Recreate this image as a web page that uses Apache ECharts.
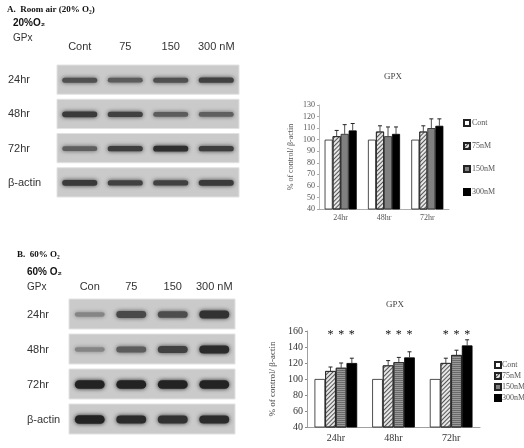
<!DOCTYPE html>
<html><head><meta charset="utf-8">
<script src="https://cdn.jsdelivr.net/npm/echarts@6/dist/echarts.min.js"></script>
<style>html,body{margin:0;padding:0;background:#fff}#c{width:524px;height:448px}</style>
</head><body><div id="c"></div>
<script>
// ---------- data ----------
const laneA = ['Cont', '75', '150', '300 nM'];
const laneB = ['Con', '75', '150', '300 nM'];
const blotRows = ['24hr', '48hr', '72hr', 'β-actin'];
// band intensity (0..1) per row, per lane
const bandA = [[0.70, 0.62, 0.70, 0.80], [0.85, 0.80, 0.62, 0.60], [0.60, 0.82, 0.92, 0.82], [0.85, 0.80, 0.80, 0.85]];
const bandB = [[0.35, 0.75, 0.72, 0.90], [0.35, 0.62, 0.80, 0.95], [1.00, 1.00, 1.00, 1.00], [1.00, 0.95, 0.90, 0.95]];
const times = ['24hr', '48hr', '72hr'];
const doses = ['Cont', '75nM', '150nM', '300nM'];
// % of control / beta-actin, per dose, per time
const airMean = [[100, 100, 100], [103, 107, 107], [105, 103, 110], [108, 105, 112]];
const airSD = [[0, 0, 0], [5, 5, 5], [8, 8, 8], [6, 6, 6]];
const hyperMean = [[100, 100, 100], [110, 117, 120], [114, 121, 130], [120, 127, 142]];
const hyperSD = [[0, 0, 0], [5, 6, 6], [6, 6, 6], [6, 7, 7]];
const hyperSig = [[0, 0, 0], [1, 1, 1], [1, 1, 1], [1, 1, 1]];
const airTicks = { min: 40, max: 130, interval: 10 };
const hyperTicks = { min: 40, max: 160, interval: 20 };

// ---------- helpers ----------
const SERIF = '"Liberation Serif","Times New Roman",serif';
const SANS = '"Liberation Sans",Arial,sans-serif';

function bandItems(m) {
  const out = [];
  m.forEach((row, r) => row.forEach((v, l) => out.push([l, r, v])));
  return out;
}
function panelSeries(idx) {
  return {
    type: 'custom', xAxisIndex: idx, yAxisIndex: idx, silent: true, z: 1,
    encode: { x: 0, y: 1 },
    data: blotRows.map((_, r) => [0, r]),
    renderItem: function (params, api) {
      const c = api.coord([0, api.value(1)]);
      const cell = api.size([1, 1]);
      const cs = params.coordSys;
      return {
        type: 'rect',
        shape: { x: cs.x, y: c[1] - cell[1] / 2 + 2, width: cs.width, height: cell[1] - 5 },
        style: { fill: '#cacaca', stroke: '#e2e2e2', lineWidth: 1 }
      };
    }
  };
}
function bandSeries(idx, m, frac, h0, h1) {
  return {
    type: 'custom', xAxisIndex: idx, yAxisIndex: idx, silent: true, z: 2,
    encode: { x: 0, y: 1 },
    data: bandItems(m),
    renderItem: function (params, api) {
      const v = api.value(2);
      const c = api.coord([api.value(0), api.value(1)]);
      const cell = api.size([1, 1]);
      const w = cell[0] * frac;
      const h = h0 + h1 * v;
      const g = Math.round(185 - 150 * v);
      const col = 'rgb(' + g + ',' + g + ',' + g + ')';
      return {
        type: 'rect',
        shape: { x: c[0] - w / 2, y: c[1] - h / 2, width: w, height: h, r: h / 2 },
        style: { fill: col, shadowBlur: 4, shadowColor: col }
      };
    }
  };
}
function blotAxes(lanes, labMargin, rowMargin) {
  return {
    x: {
      type: 'category', data: lanes, position: 'top',
      axisLine: { show: false }, axisTick: { show: false },
      axisLabel: { interval: 0, fontFamily: SANS, fontSize: 11, color: '#333', margin: labMargin }
    },
    y: {
      type: 'category', data: blotRows, inverse: true,
      axisLine: { show: false }, axisTick: { show: false },
      axisLabel: { interval: 0, fontFamily: SANS, fontSize: 11, color: '#333', align: 'left', margin: rowMargin }
    }
  };
}
const barStyles = [
  { color: '#ffffff', borderColor: '#222', borderWidth: 0.8 },
  { color: '#e6e6e6', borderColor: '#222', borderWidth: 0.8,
    decal: { symbol: 'rect', symbolSize: 1, dashArrayX: [1, 0], dashArrayY: [1, 2], rotation: -Math.PI / 4, color: '#555' } },
  null,
  { color: '#000000', borderColor: '#000', borderWidth: 0.8 }
];
function barSeries(idx, mean, stripe150) {
  return doses.map((d, s) => {
    let st = barStyles[s];
    if (s === 2) {
      st = stripe150
        ? { color: '#9a9a9a', borderColor: '#222', borderWidth: 0.8,
            decal: { symbol: 'rect', symbolSize: 1, dashArrayX: [1, 0], dashArrayY: [1, 1], rotation: 0, color: '#6a6a6a' } }
        : { color: '#808080', borderColor: '#222', borderWidth: 0.8 };
    }
    return {
      name: d, type: 'bar', xAxisIndex: idx, yAxisIndex: idx,
      barGap: '0%', barCategoryGap: '26%', silent: true,
      itemStyle: st, data: mean[s]
    };
  });
}
function errSeries(idx, mean, sd, sig, starVal) {
  const data = [];
  doses.forEach((d, s) => times.forEach((t, c) => {
    data.push([c, s, mean[s][c], sd[s][c], sig ? sig[s][c] : 0]);
  }));
  return {
    type: 'custom', xAxisIndex: idx, yAxisIndex: idx, silent: true, z: 5,
    encode: { x: 0, y: 2 },
    data: data,
    renderItem: function (params, api) {
      const c = api.value(0), s = api.value(1), m = api.value(2), e = api.value(3), g = api.value(4);
      const p = api.coord([c, m]);
      const band = api.size([1, 0])[0];
      const bw = band * 0.74 / 4;
      const x = p[0] + (s - 1.5) * bw;
      const children = [];
      if (e > 0) {
        const top = api.coord([c, m + e])[1];
        children.push({ type: 'line', shape: { x1: x, y1: p[1], x2: x, y2: top }, style: { stroke: '#222', lineWidth: 0.8 } });
        children.push({ type: 'line', shape: { x1: x - 2, y1: top, x2: x + 2, y2: top }, style: { stroke: '#222', lineWidth: 1 } });
      }
      if (g) {
        const sy = api.coord([c, starVal])[1];
        children.push({ type: 'text', style: { text: '*', x: x, y: sy, fontSize: 12, fontFamily: SERIF, fill: '#111', align: 'center', verticalAlign: 'middle' } });
      }
      return { type: 'group', children: children };
    }
  };
}

const bA = blotAxes(laneA, 11, 49);
const bB = blotAxes(laneB, 5, 42);

const option = {
  animation: false,
  backgroundColor: '#fff',
  grid: [
    { left: 57, top: 63, width: 182, height: 137 },
    { left: 69, top: 297, width: 166, height: 140 },
    { left: 319, top: 105, width: 130, height: 104 },
    { left: 307, top: 331, width: 173, height: 96 }
  ],
  xAxis: [
    Object.assign({ gridIndex: 0 }, bA.x),
    Object.assign({ gridIndex: 1 }, bB.x),
    { gridIndex: 2, type: 'category', data: times,
      axisLine: { lineStyle: { color: '#999', width: 0.8 } }, axisTick: { inside: true, length: 3, lineStyle: { color: '#999' } },
      axisLabel: { fontFamily: SERIF, fontSize: 8, color: '#555', margin: 5 } },
    { gridIndex: 3, type: 'category', data: times,
      axisLine: { lineStyle: { color: '#888', width: 0.8 } }, axisTick: { inside: true, length: 3, lineStyle: { color: '#888' } },
      axisLabel: { fontFamily: SERIF, fontSize: 10, color: '#333', margin: 6 } }
  ],
  yAxis: [
    Object.assign({ gridIndex: 0 }, bA.y),
    Object.assign({ gridIndex: 1 }, bB.y),
    { gridIndex: 2, type: 'value', min: airTicks.min, max: airTicks.max, interval: airTicks.interval,
      name: '% of control/ β-actin', nameLocation: 'middle', nameGap: 24,
      nameTextStyle: { fontFamily: SERIF, fontSize: 8, color: '#555' },
      axisLine: { show: true, lineStyle: { color: '#aaa', width: 0.8 } }, axisTick: { show: true, length: 2, lineStyle: { color: '#aaa' } },
      splitLine: { show: false },
      axisLabel: { fontFamily: SERIF, fontSize: 8, color: '#555', margin: 4 } },
    { gridIndex: 3, type: 'value', min: hyperTicks.min, max: hyperTicks.max, interval: hyperTicks.interval,
      name: '% of control/ β-actin', nameLocation: 'middle', nameGap: 30,
      nameTextStyle: { fontFamily: SERIF, fontSize: 9, color: '#444' },
      axisLine: { show: true, lineStyle: { color: '#888', width: 0.8 } }, axisTick: { show: true, length: 2, lineStyle: { color: '#888' } },
      splitLine: { show: false },
      axisLabel: { fontFamily: SERIF, fontSize: 10, color: '#333', margin: 4 } }
  ],
  legend: [
    { data: doses, orient: 'vertical', left: 458, top: 114, itemWidth: 6, itemHeight: 6, itemGap: 15,
      icon: 'rect', selectedMode: false, textStyle: { fontFamily: SERIF, fontSize: 8, color: '#555', padding: [0, 0, 0, -3] } },
    { data: doses, orient: 'vertical', left: 489, top: 356, itemWidth: 6, itemHeight: 6, itemGap: 3,
      icon: 'rect', selectedMode: false, textStyle: { fontFamily: SERIF, fontSize: 8, color: '#555', padding: [0, 0, 0, -4] } }
  ],
  graphic: [
    { type: 'text', left: 7, top: 5, style: { text: 'A.  Room air (20% O₂)', font: 'bold 9px ' + SERIF, fill: '#111' } },
    { type: 'text', left: 13, top: 18, style: { text: '20%O₂', font: 'bold 10px ' + SANS, fill: '#111' } },
    { type: 'text', left: 13, top: 33, style: { text: 'GPx', font: '10px ' + SANS, fill: '#333' } },
    { type: 'text', left: 17, top: 250, style: { text: 'B.  60% O₂', font: 'bold 9px ' + SERIF, fill: '#111' } },
    { type: 'text', left: 27, top: 267, style: { text: '60% O₂', font: 'bold 10px ' + SANS, fill: '#111' } },
    { type: 'text', left: 27, top: 282, style: { text: 'GPx', font: '10px ' + SANS, fill: '#333' } },
    { type: 'text', left: 384, top: 72, style: { text: 'GPX', font: '9px ' + SERIF, fill: '#444' } },
    { type: 'text', left: 386, top: 300, style: { text: 'GPX', font: '9px ' + SERIF, fill: '#444' } }
  ],
  series: [
    panelSeries(0), bandSeries(0, bandA, 0.77, 2.2, 4),
    panelSeries(1), bandSeries(1, bandB, 0.72, 2, 6.5)
  ].concat(barSeries(2, airMean, false), [errSeries(2, airMean, airSD, null, 0)],
           barSeries(3, hyperMean, true), [errSeries(3, hyperMean, hyperSD, hyperSig, 155)])
};
const chart = echarts.init(document.getElementById('c'), null, { renderer: 'canvas' });
chart.setOption(option);
</script></body></html>
